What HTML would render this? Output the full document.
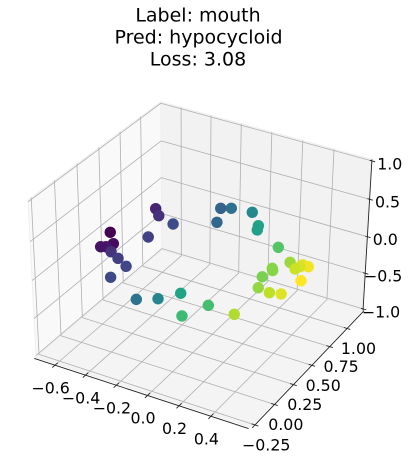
<!DOCTYPE html>
<html>
<head>
<meta charset="utf-8">
<title>3D scatter chart</title>
<style>
html,body{margin:0;padding:0;background:#fff;}
svg{display:block;font-family:"DejaVu Sans","Liberation Sans",sans-serif;}
</style>
</head>
<body>
<svg id="chart" width="410" height="461" viewBox="0 0 410 461" xmlns="http://www.w3.org/2000/svg">
  <g font-size="19" fill="#000" text-anchor="middle">
    <text x="198" y="21.7">Label: mouth</text>
    <text x="198.5" y="43.7">Pred: hypocycloid</text>
    <text x="198" y="65.7">Loss: 3.08</text>
  </g>
  <g id="panes"></g>
  <g id="grid"></g>
  <g id="axes"></g>
  <g id="labels" font-size="15.8" fill="#000" text-anchor="middle"></g>
  <g id="points"></g>
</svg>
<script>
const xTicks = [-0.6, -0.4, -0.2, 0.0, 0.2, 0.4];
const yTicks = [-0.25, 0.0, 0.25, 0.5, 0.75, 1.0];
const zTicks = [-1.0, -0.5, 0.0, 0.5, 1.0];
const xTickLabels = ["\u22120.6", "\u22120.4", "\u22120.2", "0.0", "0.2", "0.4"];
const yTickLabels = ["\u22120.25", "0.00", "0.25", "0.50", "0.75", "1.00"];
const zTickLabels = ["\u22121.0", "\u22120.5", "0.0", "0.5", "1.0"];
const xLimits = [-0.737, 0.633];
const yLimits = [-0.284, 1.252];
const zLimits = [-1.02, 1.02];

const xValues = [-0.652, -0.569, -0.612, -0.586, -0.533, -0.461, -0.377, -0.388, -0.390, -0.334, -0.439, -0.218,
  -0.078, -0.027, -0.018, 0.097, 0.199, 0.217,
  -0.314, -0.213, -0.133, -0.006, 0.065, 0.236,
  0.177, 0.259, 0.272, 0.254, 0.291, 0.370, 0.433, 0.463, 0.315, 0.374, 0.387, 0.390, 0.428];
const yValues = [0.459, 0.347, 0.274, 0.291, 0.255, 0.208, 0.151, -0.009, 0.535, 0.468, 0.531, 0.424,
  0.749, 0.784, 0.582, 0.807, 0.678, 0.627,
  0.151, 0.226, 0.354, 0.127, 0.317, 0.307,
  1.007, 0.754, 0.732, 0.631, 0.502, 0.485, 0.509, 0.713, 0.878, 0.821, 0.862, 0.892, 0.889];
const zValues = [0, 0, 0, 0, 0, 0, 0, 0, 0.4, 0.4, 0, 0.4,
  0.4, 0.4, 0.4, 0.4, 0.4, 0.4,
  -0.4, -0.4, -0.4, -0.4, -0.4, -0.4,
  -0.2, -0.2, -0.2, -0.2, -0.2, -0.2, -0.2, -0.2, -0.2, -0.2, -0.2, -0.2, -0.2];
const colorValues = [0.0, 0.03, 0.05, 0.06, 0.14, 0.18, 0.21, 0.22, 0.10, 0.14, 0.19, 0.23,
  0.31, 0.37, 0.33, 0.47, 0.58, 0.56,
  0.38, 0.46, 0.58, 0.68, 0.70, 0.88,
  0.73, 0.82, 0.82, 0.80, 0.84, 0.90, 0.95, 1.0, 0.85, 0.92, 0.94, 0.96, 0.98];

const viridisStops = ["#440154", "#482475", "#414487", "#355f8d", "#2a788e", "#21918c", "#22a884", "#44bf70", "#7ad151", "#bddf26", "#fde725"];

const SVG_NS = "http://www.w3.org/2000/svg";

function norm(v, lim) { return (v - lim[0]) / (lim[1] - lim[0]); }
function xAxis(x) { return norm(x, xLimits); }
function yAxis(y) { return norm(y, yLimits); }
function zAxis(z) { return norm(z, zLimits); }

// Perspective projection from normalised cube coordinates to pixels
function project(a, b, c) {
  const w = 1 - 0.0385 * a + 0.0916 * b - 0.0506 * c;
  return {
    x: (36 + 204.4 * a + 140.8 * b - 9.41 * c) / w,
    y: (357 + 53.6 * a - 84.1 * b - 167 * c) / w,
    w: w
  };
}

function makeLine(parent, p, q, stroke, width) {
  const el = document.createElementNS(SVG_NS, "line");
  el.setAttribute("x1", p.x.toFixed(2));
  el.setAttribute("y1", p.y.toFixed(2));
  el.setAttribute("x2", q.x.toFixed(2));
  el.setAttribute("y2", q.y.toFixed(2));
  el.setAttribute("stroke", stroke);
  el.setAttribute("stroke-width", width);
  parent.appendChild(el);
  return el;
}

function makePane(name, corners, fill) {
  const el = document.createElementNS(SVG_NS, "polygon");
  el.setAttribute("points", corners.map(function (k) {
    const p = project(k[0], k[1], k[2]);
    return p.x.toFixed(2) + "," + p.y.toFixed(2);
  }).join(" "));
  el.setAttribute("fill", fill);
  el.setAttribute("stroke", "#efefef");
  el.setAttribute("stroke-width", "1");
  
  
  document.getElementById("panes").appendChild(el);
}

function makeLabel(text, x, y, name) {
  const el = document.createElementNS(SVG_NS, "text");
  el.setAttribute("x", x.toFixed(2));
  el.setAttribute("y", (y + 5.7).toFixed(2));
  el.textContent = text;
  
  
  document.getElementById("labels").appendChild(el);
}

function viridis(t) {
  const pos = Math.min(Math.max(t, 0), 1) * (viridisStops.length - 1);
  const i = Math.min(Math.floor(pos), viridisStops.length - 2);
  const f = pos - i;
  const c0 = viridisStops[i], c1 = viridisStops[i + 1];
  let out = "rgb(";
  for (let k = 0; k < 3; k++) {
    const v0 = parseInt(c0.substr(1 + 2 * k, 2), 16);
    const v1 = parseInt(c1.substr(1 + 2 * k, 2), 16);
    out += Math.round(v0 + (v1 - v0) * f) + (k < 2 ? "," : ")");
  }
  return out;
}

// Panes
makePane("left-wall-pane", [[0,0,0],[0,0,1],[0,1,1],[0,1,0]], "#f9f9f9");
makePane("back-wall-pane", [[0,1,0],[0,1,1],[1,1,1],[1,1,0]], "#f2f2f2");
makePane("floor-pane", [[0,0,0],[1,0,0],[1,1,0],[0,1,0]], "#f4f4f4");

const gridGroup = document.getElementById("grid");
const axesGroup = document.getElementById("axes");
const gridColor = "#b0b0b0";
const axisColor = "#222222";

// Grid lines
xTicks.forEach(function (t) {
  const a = xAxis(t);
  const l1 = makeLine(gridGroup, project(a, 0, 0), project(a, 1, 0), gridColor, 0.8);
  
  
  const l2 = makeLine(gridGroup, project(a, 1, 0), project(a, 1, 1), gridColor, 0.8);
  
  
});
yTicks.forEach(function (t) {
  const b = yAxis(t);
  const l1 = makeLine(gridGroup, project(1, b, 0), project(0, b, 0), gridColor, 0.8);
  
  
  const l2 = makeLine(gridGroup, project(0, b, 0), project(0, b, 1), gridColor, 0.8);
  
  
});
zTicks.forEach(function (t) {
  const c = zAxis(t);
  const l1 = makeLine(gridGroup, project(0, 0, c), project(0, 1, c), gridColor, 0.8);
  
  
  const l2 = makeLine(gridGroup, project(0, 1, c), project(1, 1, c), gridColor, 0.8);
  
  
});

// Axis lines sit just outside the panes
const xAxisLine = makeLine(axesGroup, project(0, -0.012, 0), project(1, -0.012, 0), axisColor, 0.9);


const yAxisLine = makeLine(axesGroup, project(1.01, 0, 0), project(1.01, 1, 0), axisColor, 0.9);


const zAxisLine = makeLine(axesGroup, project(1.005, 1, 0), project(1.005, 1, 1), axisColor, 0.9);



// Ticks and tick labels
xTicks.forEach(function (t, i) {
  const a = xAxis(t);
  const tick = makeLine(axesGroup, project(a, -0.032, 0), project(a, 0.008, 0), axisColor, 0.9);
  
  
  const p = project(a, 0, 0);
  makeLabel(xTickLabels[i], p.x - 6, p.y + 24, "x-tick-label");
});
yTicks.forEach(function (t, i) {
  const b = yAxis(t);
  const tick = makeLine(axesGroup, project(0.995, b, 0), project(1.025, b, 0), axisColor, 0.9);
  
  
  const p = project(1, b, 0);
  makeLabel(yTickLabels[i], p.x + 13.5, p.y + 20.5, "y-tick-label");
});
zTicks.forEach(function (t, i) {
  const c = zAxis(t);
  const tick = makeLine(axesGroup, project(0.995, 1, c), project(1.02, 1, c), axisColor, 0.9);
  
  
  const p = project(1, 1, c);
  makeLabel(zTickLabels[i], p.x + 19, p.y + 3, "z-tick-label");
});

// Scatter points, far to near
const pointsGroup = document.getElementById("points");
const projected = xValues.map(function (x, i) {
  const p = project(xAxis(x), yAxis(yValues[i]), zAxis(zValues[i]));
  p.color = viridis(colorValues[i]);
  return p;
});
projected.sort(function (p, q) { return q.w - p.w; });
projected.forEach(function (p) {
  const dot = document.createElementNS(SVG_NS, "circle");
  dot.setAttribute("cx", p.x.toFixed(2));
  dot.setAttribute("cy", p.y.toFixed(2));
  dot.setAttribute("r", "5.7");
  dot.setAttribute("fill", p.color);
  
  
  pointsGroup.appendChild(dot);
});
</script>
</body>
</html>
